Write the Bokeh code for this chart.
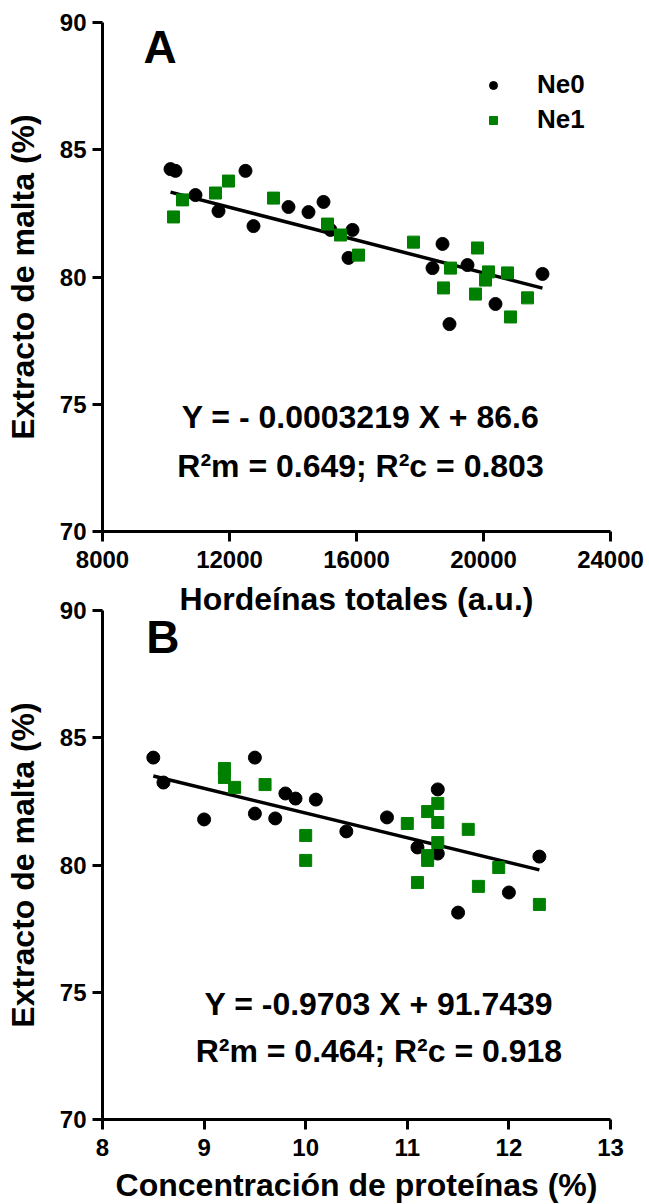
from bokeh.plotting import figure
from bokeh.models import Range1d, FixedTicker, Label, Legend, LegendItem
from bokeh.layouts import column
from bokeh.embed import file_html
from bokeh.resources import INLINE

FONT = "Liberation Sans"
GREEN = "#008000"

# Panel A: total hordeins (a.u.) vs malt extract (%)
hord_ne0 = [10142, 10299, 10929, 11654, 12504, 12756, 13858, 14488, 14961,
            15181, 15874, 15748, 18394, 18709, 18929, 19496, 20378, 21858]
ext_a_ne0 = [84.24, 84.17, 83.22, 82.59, 84.17, 82.00, 82.75, 82.55, 82.95,
             81.85, 81.85, 80.75, 80.35, 81.30, 78.15, 80.47, 78.94, 80.12]
hord_ne1 = [10236, 10520, 11559, 11968, 13386, 15087, 15496, 16063, 17795,
            19811, 18961, 18740, 20157, 20063, 20756, 19748, 21386, 20850]
ext_a_ne1 = [82.36, 83.03, 83.30, 83.77, 83.10, 82.08, 81.65, 80.86, 81.37,
             81.14, 80.35, 79.57, 80.20, 79.88, 80.16, 79.33, 79.18, 78.43]
slope_a, icpt_a = -0.0003219, 86.6

# Panel B: protein concentration (%) vs malt extract (%)
prot_ne0 = [8.5, 8.6, 9.0, 9.5, 9.5, 9.7, 9.8, 9.9, 10.1, 10.4, 10.8, 11.3,
            11.1, 11.3, 11.5, 12.0, 12.3]
ext_b_ne0 = [84.22, 83.24, 81.79, 84.22, 82.02, 81.83, 82.81, 82.61, 82.57,
             81.32, 81.87, 82.97, 80.69, 80.45, 78.13, 78.92, 80.33]
prot_ne1 = [9.2, 9.2, 9.3, 9.6, 10.0, 10.0, 11.3, 11.2, 11.3, 11.0, 11.6,
            11.3, 11.2, 11.2, 11.9, 11.1, 11.7, 12.3]
ext_b_ne1 = [83.79, 83.44, 83.05, 83.16, 81.16, 80.18, 82.42, 82.10, 81.67,
             81.63, 81.40, 80.88, 80.37, 80.18, 79.90, 79.31, 79.16, 78.45]
slope_b, icpt_b = -0.9703, 91.7439

x_ticks_a = [8000, 12000, 16000, 20000, 24000]
x_ticks_b = [8, 9, 10, 11, 12, 13]
y_ticks = [70, 75, 80, 85, 90]

eq_a = ["Y = - 0.0003219 X + 86.6", "R\u00b2m = 0.649; R\u00b2c = 0.803"]
eq_b = ["Y = -0.9703 X + 91.7439", "R\u00b2m = 0.464; R\u00b2c = 0.918"]


def style(p, xticks, xlabel, xlabel_standoff):
    for ax in (p.xaxis[0], p.yaxis[0]):
        ax.axis_line_width = 3
        ax.axis_line_color = "black"
        ax.major_tick_line_width = 3
        ax.major_tick_line_color = "black"
        ax.major_tick_out = 10
        ax.major_tick_in = 0
        ax.minor_tick_out = 0
        ax.minor_tick_in = 0
        ax.major_label_text_font = FONT
        ax.major_label_text_font_style = "bold"
        ax.major_label_text_font_size = "24px"
        ax.major_label_text_color = "black"
        ax.axis_label_text_font = FONT
        ax.axis_label_text_font_style = "bold"
        ax.axis_label_text_font_size = "32px"
        ax.axis_label_text_color = "black"
    p.xaxis.ticker = FixedTicker(ticks=xticks)
    p.yaxis.ticker = FixedTicker(ticks=y_ticks)
    p.xaxis.major_label_standoff = 9
    p.yaxis.major_label_standoff = 6
    p.xaxis.axis_label = xlabel
    p.xaxis.axis_label_standoff = xlabel_standoff
    p.yaxis.axis_label = "Extracto de malta (%)"
    p.yaxis.axis_label_standoff = 16
    p.grid.visible = False
    p.outline_line_color = None


def text(p, s, x, y, size, align="center"):
    p.add_layout(Label(x=x, y=y, text=s, text_font=FONT, text_font_style="bold",
                       text_font_size=size, text_align=align,
                       text_baseline="alphabetic", text_color="black"))


# ---- top panel ----
pa = figure(frame_width=508, frame_height=509, min_border_left=102,
            min_border_right=39, min_border_top=22, min_border_bottom=95,
            x_range=Range1d(8000, 24000), y_range=Range1d(70, 90),
            output_backend="svg", toolbar_location=None)
style(pa, x_ticks_a, "Horde\u00ednas totales (a.u.)", 10)

xa = [min(hord_ne0 + hord_ne1), max(hord_ne0 + hord_ne1)]
pa.line(xa, [slope_a * v + icpt_a for v in xa], line_width=3.5, line_color="black")
ra0 = pa.scatter(hord_ne0, ext_a_ne0, marker="circle", size=13, color="black")
ra1 = pa.scatter(hord_ne1, ext_a_ne1, marker="square", size=12, color=GREEN)

legend = Legend(items=[LegendItem(label="Ne0", renderers=[ra0]),
                       LegendItem(label="Ne1", renderers=[ra1])],
                location=(381, 396), orientation="vertical")
legend.border_line_color = None
legend.background_fill_alpha = 0
legend.padding = 0
legend.margin = 0
legend.spacing = 4
legend.glyph_width = 20
legend.glyph_height = 30
legend.label_height = 30
legend.label_standoff = 34
legend.label_text_font = FONT
legend.label_text_font_style = "bold"
legend.label_text_font_size = "26px"
legend.label_text_color = "black"
pa.add_layout(legend)

text(pa, "A", 9291, 89.02, "46px", align="left")
text(pa, eq_a[0], 16126, 74.48, "32px")
text(pa, eq_a[1], 16126, 72.59, "32px")

# ---- bottom panel (pulled up under the upper panel's axis title) ----
pb = figure(frame_width=508, frame_height=509, min_border_left=102,
            min_border_right=39, min_border_top=25, min_border_bottom=85,
            x_range=Range1d(8, 13), y_range=Range1d(70, 90),
            output_backend="svg", toolbar_location=None,
            margin=(-41, 0, 0, 0))
pb.border_fill_alpha = 0
pb.background_fill_alpha = 0
style(pb, x_ticks_b, "Concentraci\u00f3n de prote\u00ednas (%)", 8)

xb = [min(prot_ne0 + prot_ne1), max(prot_ne0 + prot_ne1)]
pb.line(xb, [slope_b * v + icpt_b for v in xb], line_width=3.5, line_color="black")
pb.scatter(prot_ne0, ext_b_ne0, marker="circle", size=13, color="black")
pb.scatter(prot_ne1, ext_b_ne1, marker="square", size=12, color=GREEN)

text(pb, "B", 8.43, 88.94, "46px", align="left")
text(pb, eq_b[0], 10.72, 74.52, "32px")
text(pb, eq_b[1], 10.72, 72.71, "32px")

layout = column(pa, pb, spacing=0)
open("out.html", "w").write(file_html(layout, INLINE))
